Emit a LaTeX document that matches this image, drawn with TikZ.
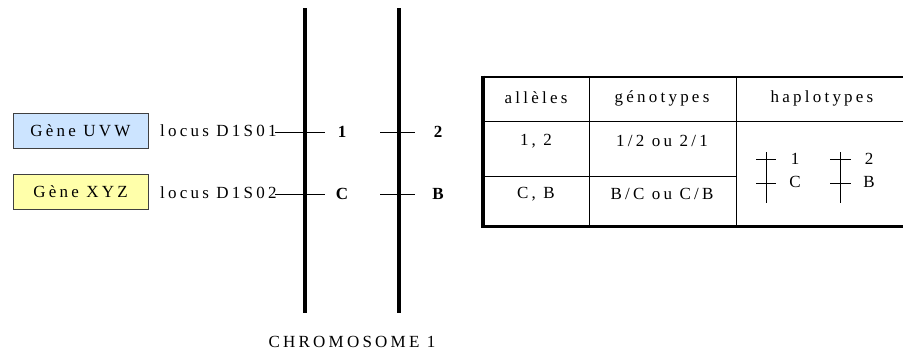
\documentclass[tikz,border=0pt]{standalone}
\usepackage{fontspec}
\setmainfont{Liberation Serif}[LetterSpace=19]
\definecolor{geneblue}{RGB}{204,228,255}
\definecolor{geneyellow}{RGB}{255,255,170}
\begin{document}
\begin{tikzpicture}[x=1pt,y=-1pt,
  txt/.style={font=\fontsize{17}{19}\selectfont, inner sep=0pt},
  allele/.style={txt, font=\fontsize{17}{19}\selectfont\bfseries},
  genebox/.style={txt, draw=black!75, line width=0.9pt, minimum width=135pt, minimum height=35pt},
  chrom/.style={line width=4pt},
  tickline/.style={line width=1pt},
  grid/.style={line width=1pt},
  smallchrom/.style={line width=1pt},
]
\useasboundingbox (0,0) rectangle (903,351);
\clip (0,0) rectangle (903,351);

% gene boxes
\node[genebox, fill=geneblue] (uvw) at (80.5,130.5) {Gène UVW};
\node[genebox, fill=geneyellow] (xyz) at (80.5,192) {Gène XYZ};

% locus labels
\node[txt, anchor=west] (l1) at (160,131) {locus D1S01};
\node[txt, anchor=west] (l2) at (160,193) {locus D1S02};

% the two chromatids
\coordinate (c1t) at (305,8);
\coordinate (c1b) at (305,313);
\coordinate (c2t) at (399,8);
\coordinate (c2b) at (399,313);
\draw[chrom] (c1t) -- (c1b);
\draw[chrom] (c2t) -- (c2b);

% loci
\coordinate (t1a) at (325,132);
\coordinate (t2a) at (325,194);
\coordinate (t1b) at (380,132);
\coordinate (t1c) at (415,132);
\coordinate (t2b) at (380,194);
\coordinate (t2c) at (415,194);
\draw[tickline] (l1.east) ++(-2,0) coordinate (s1) (s1|-t1a) -- (t1a);
\draw[tickline] (l2.east) ++(-2,0) coordinate (s2) (s2|-t2a) -- (t2a);
\draw[tickline] (t1b) -- (t1c);
\draw[tickline] (t2b) -- (t2c);

% alleles
\node[allele] (a1) at (342,132) {1};
\node[allele] (a2) at (438,132) {2};
\node[allele] (aC) at (342,194) {C};
\node[allele] (aB) at (438,194) {B};

% caption
\node[txt] (cap) at (352,342) {CHROMOSOME 1};

% table grid
\coordinate (tl) at (483,77);
\coordinate (br) at (910,225);
\draw[grid] (589,77) -- (589,225);
\draw[grid] (736,77) -- (736,225);
\draw[grid] (483,121) -- (910,121);
\draw[grid] (483,176) -- (736,176);
\draw[line width=2pt] (tl) -- (910,77);
\draw[line width=3.5pt] (483,75.5) -- (483,226.7) -- (910,226.7);
\draw[line width=3.5pt] (908,75.5) -- (908,226.7);

% table text
\node[txt] (h1) at (536,98) {allèles};
\node[txt] (h2) at (662,98) {génotypes};
\node[txt] (h3) at (822,98) {haplotypes};
\node[txt] (r1a) at (536,141) {1, 2};
\node[txt] (r1b) at (662,141) {1/2 ou 2/1};
\node[txt] (r2a) at (536,194) {C, B};
\node[txt] (r2b) at (662,194) {B/C ou C/B};

% haplotype sketches
\coordinate (p1t) at (766,152);
\coordinate (p1b) at (766,203);
\coordinate (p2t) at (840,152);
\coordinate (p2b) at (840,203);
\draw[smallchrom] (p1t) -- (p1b);
\draw[smallchrom] (p2t) -- (p2b);
\draw[smallchrom] (756,159) -- (776,159);
\draw[smallchrom] (756,183) -- (776,183);
\draw[smallchrom] (830,159) -- (851,159);
\draw[smallchrom] (830,183) -- (851,183);
\node[txt] (hp1) at (795,159) {1};
\node[txt] (hpC) at (795,182) {C};
\node[txt] (hp2) at (869,159) {2};
\node[txt] (hpB) at (869,182) {B};
\end{tikzpicture}
\end{document}
